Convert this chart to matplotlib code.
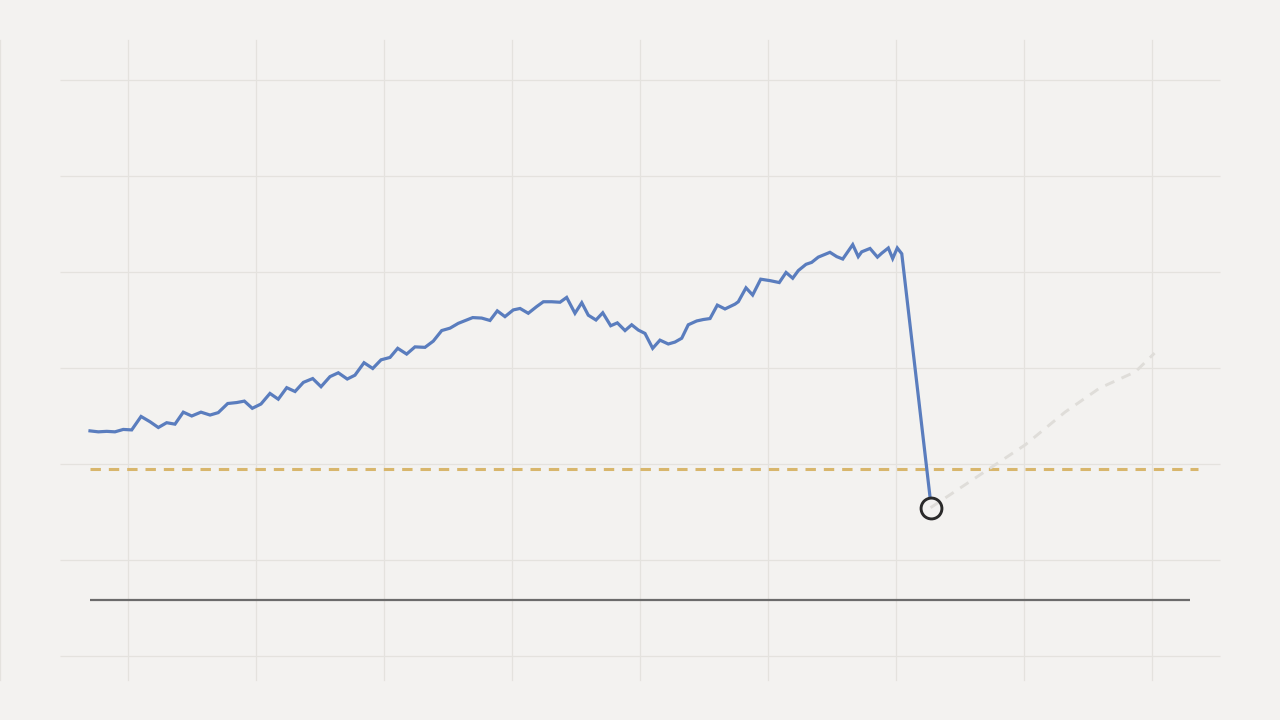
import matplotlib
matplotlib.use("Agg")
import matplotlib.pyplot as plt

# observed series (x in period units, y in index units)
obs_x = [7.03, 7.68, 8.34, 8.98, 9.63, 10.29, 11.02, 11.72, 12.37, 13.02,
         13.67, 14.32, 14.98, 15.70, 16.41, 17.05, 17.79, 18.49, 19.09, 19.71,
         20.39, 21.09, 21.74, 22.40, 23.05, 23.70, 24.43, 25.08, 25.78, 26.43,
         27.13, 27.73, 28.44, 29.12, 29.77, 30.47, 31.07, 31.77, 32.42, 33.20,
         33.85, 34.51, 35.16, 35.80, 36.46, 36.93, 37.63, 38.28, 38.85, 39.45,
         40.10, 40.63, 41.27, 41.93, 42.45, 43.10, 43.75, 44.27, 44.92, 45.45,
         45.96, 46.56, 47.09, 47.71, 48.23, 48.83, 49.35, 49.87, 50.39, 50.99,
         51.56, 52.21, 52.73, 53.26, 53.77, 54.43, 54.95, 55.47, 56.04, 56.64,
         57.42, 57.68, 58.28, 58.80, 59.43, 60.16, 60.88, 61.41, 61.93, 62.37,
         62.97, 63.41, 63.93, 64.84, 65.37, 65.84, 66.62, 67.05, 67.32, 67.97,
         68.55, 68.88, 69.40, 69.74, 70.10, 70.45, 72.66]
obs_y = [46.9, 46.7, 46.8, 46.7, 47.2, 47.1, 49.9, 48.8, 47.6, 48.6,
         48.3, 50.8, 50.0, 50.8, 50.2, 50.7, 52.6, 52.8, 53.1, 51.6,
         52.5, 54.7, 53.5, 55.9, 55.1, 57.0, 57.8, 56.1, 58.2, 59.0,
         57.7, 58.5, 61.1, 59.9, 61.7, 62.2, 64.1, 62.9, 64.4, 64.3,
         65.6, 67.8, 68.3, 69.3, 70.0, 70.5, 70.4, 69.9, 71.9, 70.7,
         72.1, 72.4, 71.4, 72.8, 73.8, 73.8, 73.7, 74.7, 71.4, 73.6,
         71.0, 70.0, 71.5, 68.8, 69.4, 67.8, 69.0, 67.9, 67.2, 64.1,
         65.8, 65.0, 65.4, 66.2, 69.0, 69.8, 70.1, 70.3, 73.1, 72.3,
         73.3, 73.8, 76.7, 75.2, 78.5, 78.2, 77.8, 79.9, 78.7, 80.3,
         81.6, 82.0, 83.1, 84.1, 83.2, 82.7, 85.7, 83.2, 84.2, 84.9,
         83.1, 83.9, 85.0, 82.8, 85.0, 83.8, 33.1]

# latest point and projected recovery
last_x = 72.7
last_y = 30.9
proj_x = [72.7, 80.1, 83.2, 85.9, 88.7, 90.2]
proj_y = [30.9, 44.0, 50.8, 55.8, 59.2, 63.1]

# reference levels
threshold_y = 39.0
threshold_x = [7.03, 93.6]
base_y = 11.7
base_x = [7.03, 93.0]

grid_y = [0, 20, 40, 60, 80, 100, 120]
grid_x = [0, 10, 20, 30, 40, 50, 60, 70, 80, 90]

bg = "#f3f2f0"
fig = plt.figure(figsize=(12.8, 7.2), dpi=100, facecolor=bg)
ax = fig.add_axes([0, 40 / 720, 1, 640 / 720])
ax.set_facecolor(bg)
ax.set_xlim(0, 100)
ax.set_ylim(-5, 128.33)
for s in ax.spines.values():
    s.set_visible(False)
ax.set_xticks([])
ax.set_yticks([])

# grid
ax.hlines(grid_y, 4.69, 95.31, color="#e4e2de", lw=0.9, zorder=1)
for gx in grid_x:
    ax.axvline(gx, color="#e4e2de", lw=0.9, zorder=1, clip_on=False)

ax.plot(base_x, [base_y, base_y], color="#6b6b6b", lw=1.6, zorder=2,
        solid_capstyle="butt")
ax.plot(threshold_x, [threshold_y, threshold_y], color="#d8b66c", lw=2.2,
        dashes=(3.4, 2.6), zorder=2)
ax.plot(proj_x, proj_y, color="#dfddd9", lw=2.1, dashes=(3.4, 2.7), zorder=3)
ax.plot(obs_x, obs_y, color="#5a7dbe", lw=2.3, zorder=4,
        solid_joinstyle="miter")
ax.plot([last_x], [last_y], "o", ms=15, mfc="none", mec="#2a2a2a",
        mew=2.1, zorder=5)

fig.savefig("out.png", dpi=100, facecolor=bg)
